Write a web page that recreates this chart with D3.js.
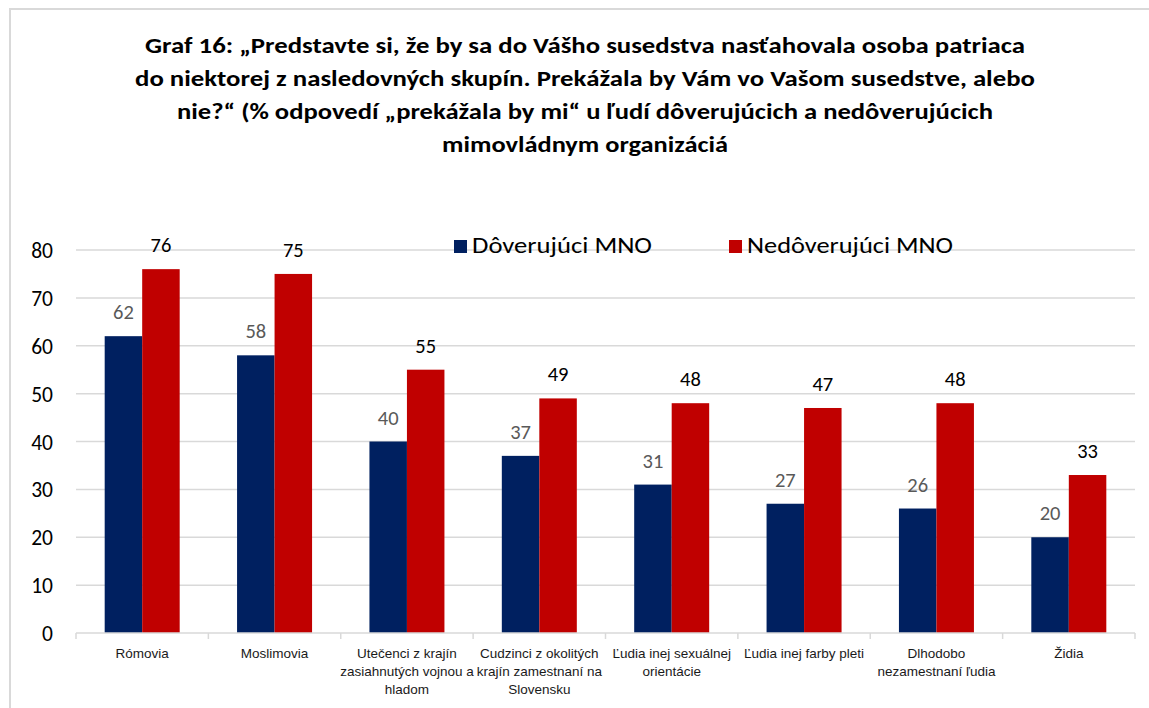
<!DOCTYPE html>
<html>
<head>
<meta charset="utf-8">
<script src="https://cdn.jsdelivr.net/npm/d3@7"></script>
<style>
  body { margin: 0; background: #fff; }
  svg { display: block; }
</style>
</head>
<body>
<svg id="drawing_region"></svg>
<script>
// data
const categories = [
  "Rómovia",
  "Moslimovia",
  "Utečenci z krajín\nzasiahnutých vojnou a\nhladom",
  "Cudzinci z okolitých\nkrajín zamestnaní na\nSlovensku",
  "Ľudia inej sexuálnej\norientácie",
  "Ľudia inej farby pleti",
  "Dlhodobo\nnezamestnaní ľudia",
  "Židia"
];
const seriesNames = ["Dôverujúci MNO", "Nedôverujúci MNO"];
const doveruju = [62, 58, 40, 37, 31, 27, 26, 20];
const nedoveruju = [76, 75, 55, 49, 48, 47, 48, 33];
const yTicks = [0, 10, 20, 30, 40, 50, 60, 70, 80];
const titleLines = [
  "Graf 16: „Predstavte si, že by sa do Vášho susedstva nasťahovala osoba patriaca",
  "do niektorej z nasledovných skupín. Prekážala by Vám vo Vašom susedstve, alebo",
  "nie?“ (% odpovedí „prekážala by mi“ u ľudí dôverujúcich a nedôverujúcich",
  "mimovládnym organizáciá"
];

const data = categories.map((c, i) => ({
  label: c,
  values: [doveruju[i], nedoveruju[i]]
}));

const colors = ["#002060", "#C00000"];
const labelColors = ["#595959", "#000000"];
const font = "Carlito, Calibri, 'Open Sans', sans-serif";

const W = 1149, H = 708;
const svg = d3.select('#drawing_region')
  .attr('width', W)
  .attr('height', H);

// frame
svg.append('path')
  .attr('d', `M10,${H} L10,9 L${W},9`)
  .attr('fill', 'none')
  .attr('stroke', '#D9D9D9')
  .attr('stroke-width', 2);

// title
const titleWidths = [880, 900, 816, 286];
svg.append('g').selectAll('text')
  .data(titleLines)
  .join('text')
  .attr('x', 585)
  .attr('y', (d, i) => 53 + i * 33)
  .attr('text-anchor', 'middle')
  .attr('textLength', (d, i) => titleWidths[i])
  .attr('lengthAdjust', 'spacingAndGlyphs')
  .style('font-family', font)
  .style('font-weight', 'bold')
  .style('font-size', '22px')
  .style('fill', '#000')
  .text(d => d);

const x0 = 76, x1 = 1135;
const yTop = 250, yBottom = 633;

const xscale = d3.scaleBand()
  .domain(d3.range(categories.length))
  .range([x0, x1])
  .padding(0);
const bw = xscale.bandwidth();
const barW = 37.5;
const xsub = d3.scaleBand()
  .domain(d3.range(seriesNames.length))
  .range([bw / 2 - barW, bw / 2 + barW]);

const yscale = d3.scaleLinear().domain([0, 80]).range([yBottom, yTop]);

// gridlines
svg.append('g').selectAll('line')
  .data(yTicks.filter(t => t > 0))
  .join('line')
  .attr('x1', x0).attr('x2', x1)
  .attr('y1', d => yscale(d)).attr('y2', d => yscale(d))
  .attr('stroke', '#D9D9D9')
  .attr('stroke-width', 1.5);

// y labels
const yaxis = d3.axisLeft(yscale).tickValues(yTicks).tickSize(0).tickPadding(0);
const yaxis_group = svg.append('g')
  .attr('transform', `translate(53,0)`)
  .call(yaxis);
yaxis_group.select('.domain').remove();
yaxis_group.selectAll('text')
  .style('font-family', font)
  .style('font-size', '21.5px')
  .attr('dy', '0.35em')
  .style('fill', '#000');

// bars
const groups = svg.append('g').selectAll('g')
  .data(data)
  .join('g')
  .attr('transform', (d, i) => `translate(${xscale(i)},0)`);

groups.selectAll('rect')
  .data(d => d.values)
  .join('rect')
  .attr('x', (d, j) => xsub(j))
  .attr('y', d => yscale(d))
  .attr('width', xsub.bandwidth())
  .attr('height', d => yBottom - yscale(d))
  .attr('fill', (d, j) => colors[j]);

groups.selectAll('text')
  .data(d => d.values)
  .join('text')
  .attr('x', (d, j) => xsub(j) + xsub.bandwidth() / 2)
  .attr('y', d => yscale(d) - 17)
  .attr('text-anchor', 'middle')
  .style('font-family', font)
  .style('font-size', '20.5px')
  .style('fill', (d, j) => labelColors[j])
  .text(d => d);

// x axis
svg.append('line')
  .attr('x1', x0).attr('x2', x1)
  .attr('y1', yBottom).attr('y2', yBottom)
  .attr('stroke', '#D9D9D9')
  .attr('stroke-width', 1.5);

svg.append('g').selectAll('line')
  .data(d3.range(categories.length + 1))
  .join('line')
  .attr('x1', i => x0 + i * bw).attr('x2', i => x0 + i * bw)
  .attr('y1', yBottom).attr('y2', yBottom + 6)
  .attr('stroke', '#D9D9D9')
  .attr('stroke-width', 1.5);

const xl = svg.append('g').selectAll('text')
  .data(data)
  .join('text')
  .attr('x', (d, i) => xscale(i) + bw / 2)
  .attr('y', 658)
  .attr('text-anchor', 'middle')
  .style('font-family', "'Liberation Sans', Arial, sans-serif")
  .style('font-size', '13.5px')
  .style('fill', '#1a1a1a');
xl.selectAll('tspan')
  .data(d => d.label.split('\n'))
  .join('tspan')
  .attr('x', function() { return d3.select(this.parentNode).attr('x'); })
  .attr('dy', (d, i) => i === 0 ? 0 : 18)
  .text(d => d);

// legend
const legendX = [454, 729];
const legendW = [180, 206];
const legend = svg.append('g').selectAll('g')
  .data(seriesNames)
  .join('g')
  .attr('transform', (d, i) => `translate(${legendX[i]},240)`);
legend.append('rect')
  .attr('width', 13).attr('height', 13)
  .attr('fill', (d, i) => colors[i]);
legend.append('text')
  .attr('x', 18)
  .attr('y', 13)
  .attr('textLength', (d, i) => legendW[i])
  .attr('lengthAdjust', 'spacingAndGlyphs')
  .style('font-family', font)
  .style('font-size', '21.5px')
  .style('fill', '#000')
  .text(d => d);
</script>
</body>
</html>
